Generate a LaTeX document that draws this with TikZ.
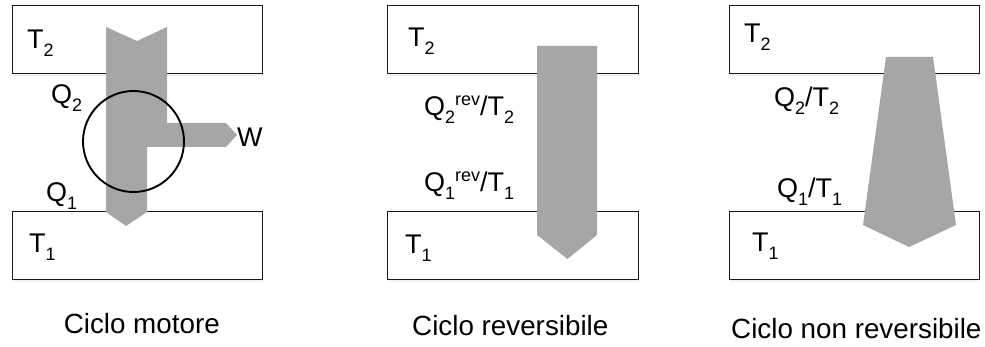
\documentclass[tikz,border=0pt]{standalone}
\usepackage{fontspec}
\setmainfont{Liberation Sans}
\usetikzlibrary{shadows}
\definecolor{flowgray}{HTML}{A6A6A6}
\definecolor{edge}{HTML}{1A1A1A}
% subscript / superscript in the label size
\newcommand\lo[1]{\raisebox{-8pt}{\fontsize{18}{18}\selectfont #1}}
\newcommand\hi[1]{\raisebox{10pt}{\fontsize{18}{18}\selectfont #1}}
\begin{document}
\begin{tikzpicture}[x=1pt,y=-1pt,
  reservoir/.style={draw=edge, line width=1.2pt, fill=white, rectangle,
    minimum width=250, minimum height=68, inner sep=0pt, anchor=north west,
    drop shadow={shadow xshift=0.5pt, shadow yshift=-2pt, opacity=0.10}},
  flow/.style={fill=flowgray, draw=none},
  lbl/.style={inner sep=0pt, anchor=base west, font=\fontsize{27}{30}\selectfont},
  caption/.style={inner sep=0pt, font=\fontsize{27.8}{32}\selectfont}]
\useasboundingbox (0,0) rectangle (985,347);

% reservoirs
\node[reservoir] (hotA) at (12,5) {};
\node[reservoir] (coldA) at (12,211) {};
\node[reservoir, minimum width=251] (hotB) at (387,5) {};
\node[reservoir, minimum width=251] (coldB) at (387,211) {};
\node[reservoir] (hotC) at (729,5) {};
\node[reservoir] (coldC) at (729,211) {};

% engine: heat in, work out, heat rejected
\path[flow] (106,27) -- (137,41) -- (167,27) -- (167,123) -- (226,123)
  -- (237,135) -- (226,147) -- (147,147) -- (147,212) -- (126,226)
  -- (106,212) -- cycle;
\node[draw, line width=1.9pt, circle, minimum size=101, inner sep=0pt] (engine) at (133.5,141.5) {};

% reversible cycle: constant entropy flow
\path[flow] (537,46) -- (597,46) -- (597,235) -- (567.5,259) -- (537,235) -- cycle;

% irreversible cycle: entropy flow grows
\path[flow] (886,57) -- (933,57) -- (956,225) -- (909,247) -- (863,225) -- cycle;

% labels
\node[lbl] (tA2) at (27,49) {T\lo{2}};
\node[lbl] (tA1) at (29,253) {T\lo{1}};
\node[lbl] (qA2) at (51,104) {Q\lo{2}};
\node[lbl] (qA1) at (46,202) {Q\lo{1}};
\node[lbl] (wA) at (237,147) {W};

\node[lbl] (tB2) at (408,47) {T\lo{2}};
\node[lbl] (tB1) at (405,254) {T\lo{1}};
\node[lbl] (qB2) at (424,116) {Q\lo{2}\hi{rev}/T\lo{2}};
\node[lbl] (qB1) at (424,192) {Q\lo{1}\hi{rev}/T\lo{1}};

\node[lbl] (tC2) at (744,43) {T\lo{2}};
\node[lbl] (tC1) at (752,252) {T\lo{1}};
\node[lbl] (qC2) at (774,107) {Q\lo{2}/T\lo{2}};
\node[lbl] (qC1) at (777,198) {Q\lo{1}/T\lo{1}};

% captions
\node[caption, anchor=base east] (capA) at (220,334) {Ciclo motore};
\node[caption, anchor=base west] (capB) at (412,335) {Ciclo reversibile};
\node[caption, anchor=base west] (capC) at (731,338) {Ciclo non reversibile};
\end{tikzpicture}
\end{document}
